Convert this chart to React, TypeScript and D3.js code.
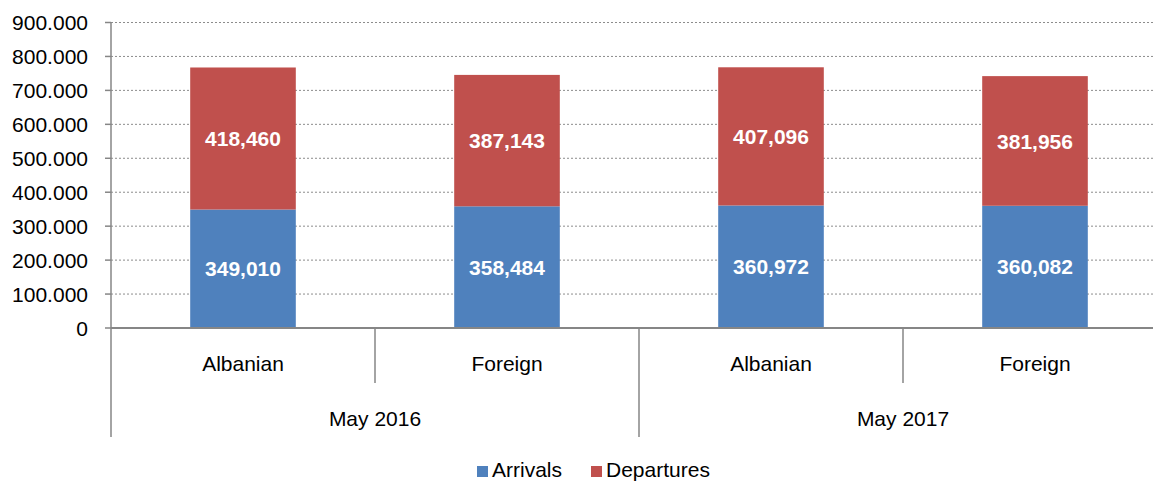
import React from "react";
import * as d3 from "d3";

const categories = ["Albanian", "Foreign", "Albanian", "Foreign"];
const groups = ["May 2016", "May 2017"];
const arrivals = [349010, 358484, 360972, 360082];
const departures = [418460, 387143, 407096, 381956];
const yTicks = [0, 100000, 200000, 300000, 400000, 500000, 600000, 700000, 800000, 900000];
const seriesNames = ["Arrivals", "Departures"];
const colors = ["#4F81BD", "#C0504D"];

const W = 1153, H = 482;
const left = 111, right = 1167, top = 22.5, bottom = 328;
const font = "'Liberation Sans', Arial, sans-serif";

export default function App() {
  const x = d3.scaleBand<number>().domain(d3.range(categories.length)).range([left, right]);
  const y = d3.scaleLinear().domain([0, 900000]).range([bottom, top]);
  const bw = x.bandwidth() * 0.4;
  const fmtTick = (v: number) => (v === 0 ? "0" : d3.format(",")(v).replace(/,/g, "."));
  const fmtVal = d3.format(",");
  const axisColor = "#868686";
  const perGroup = categories.length / groups.length;

  return (
    <svg width={W} height={H} style={{ position: "absolute", left: 0, top: 0 }} fontFamily={font}>
      <rect width={W} height={H} fill="#fff" />
      {yTicks.filter((t) => t > 0).map((t) => (
        <line key={"g" + t} x1={left} x2={right} y1={y(t)} y2={y(t)} stroke="#8c8c8c" strokeWidth={1} strokeDasharray="2,2" />
      ))}
      {yTicks.map((t) => (
        <g key={"t" + t}>
          <line x1={left - 6} x2={left} y1={y(t)} y2={y(t)} stroke={axisColor} strokeWidth={1.5} />
          <text x={88} y={y(t)} dy="0.36em" textAnchor="end" fontSize={21} fill="#000">{fmtTick(t)}</text>
        </g>
      ))}
      {categories.map((c, i) => {
        const cx = (x(i) as number) + x.bandwidth() / 2;
        const y0 = y(0), y1 = y(arrivals[i]), y2 = y(arrivals[i] + departures[i]);
        return (
          <g key={"b" + i}>
            <rect x={cx - bw / 2} y={y1} width={bw} height={y0 - y1} fill={colors[0]} />
            <rect x={cx - bw / 2} y={y2} width={bw} height={y1 - y2} fill={colors[1]} />
            <text x={cx} y={(y0 + y1) / 2} dy="0.36em" textAnchor="middle" fontSize={21} fontWeight="bold" fill="#fff">{fmtVal(arrivals[i])}</text>
            <text x={cx} y={(y1 + y2) / 2} dy="0.36em" textAnchor="middle" fontSize={21} fontWeight="bold" fill="#fff">{fmtVal(departures[i])}</text>
            <text x={cx} y={371} textAnchor="middle" fontSize={21} fill="#000">{c}</text>
          </g>
        );
      })}
      {d3.range(categories.length + 1).map((i) => {
        const xx = i < categories.length ? (x(i) as number) : right;
        const isGroup = i % perGroup === 0;
        return <line key={"s" + i} x1={xx} x2={xx} y1={bottom} y2={isGroup ? 437 : 383} stroke={axisColor} strokeWidth={1.5} />;
      })}
      {groups.map((g, gi) => {
        const x0 = x(gi * perGroup) as number;
        const x1 = (x((gi + 1) * perGroup - 1) as number) + x.bandwidth();
        return <text key={"grp" + g} x={(x0 + x1) / 2} y={426} textAnchor="middle" fontSize={21} fill="#000">{g}</text>;
      })}
      <line x1={left} x2={left} y1={top} y2={bottom} stroke={axisColor} strokeWidth={1.5} />
      <line x1={left} x2={right} y1={bottom} y2={bottom} stroke={axisColor} strokeWidth={2} />
      {seriesNames.map((s, i) => {
        const lx = i === 0 ? 477 : 591;
        return (
          <g key={"l" + s}>
            <rect x={lx} y={466} width={11} height={11} fill={colors[i]} />
            <text x={lx + 15} y={477} fontSize={21} fill="#000">{s}</text>
          </g>
        );
      })}
    </svg>
  );
}
